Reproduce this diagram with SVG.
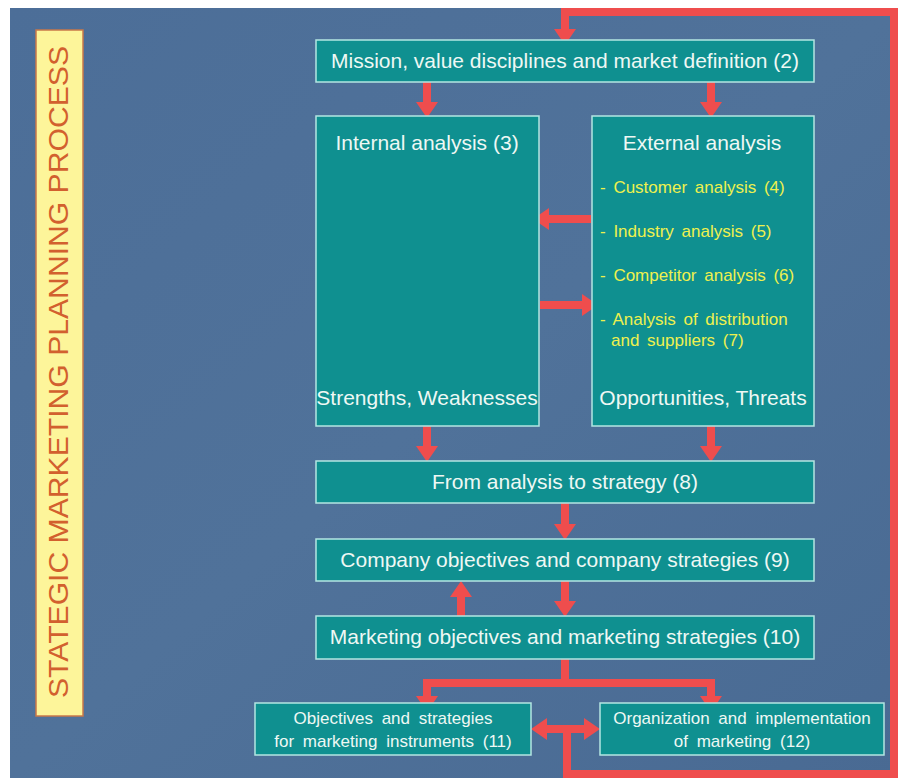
<svg xmlns="http://www.w3.org/2000/svg" width="898" height="778" viewBox="0 0 898 778">
<defs>
<style>
.box{fill:#0f9090;stroke:#b4e6e2;stroke-width:1.5}
.t{font-family:"Liberation Sans",Arial,sans-serif;fill:#eef8f4;text-anchor:middle}
.t18{font-size:21px}
.t15{font-size:17px;word-spacing:4px}
.y{font-family:"Liberation Sans",Arial,sans-serif;fill:#eef04e;font-size:17px;word-spacing:3px}
.c{fill:none;stroke:#ef4d4d;stroke-width:8;stroke-linejoin:miter}
</style>
<marker id="ah" viewBox="0 0 16 22" refX="2" refY="11" markerWidth="16" markerHeight="22" markerUnits="userSpaceOnUse" orient="auto-start-reverse">
<path d="M0,0 L16,11 L0,22 Z" fill="#ef4d4d"/>
</marker>
<linearGradient id="bg" x1="0" y1="0" x2="1" y2="1">
<stop offset="0" stop-color="#4c6e98"/>
<stop offset="0.5" stop-color="#50729a"/>
<stop offset="1" stop-color="#496a93"/>
</linearGradient>
</defs>
<rect x="0" y="0" width="898" height="778" fill="#ffffff"/>
<rect x="10" y="8" width="888" height="770" fill="url(#bg)"/>

<g id="title">
<rect x="36" y="30" width="47" height="686" fill="#fdf59a" stroke="#c8784a" stroke-width="1.5"/>
<text transform="translate(68,372) rotate(-90)" font-family="'Liberation Sans',Arial,sans-serif" font-size="27" fill="#d2602e" text-anchor="middle" textLength="652" lengthAdjust="spacingAndGlyphs">STATEGIC MARKETING PLANNING PROCESS</text>
</g>

<g id="connectors">
<line class="c" x1="427" y1="82" x2="427" y2="104" marker-end="url(#ah)"/>
<line class="c" x1="711" y1="82" x2="711" y2="104" marker-end="url(#ah)"/>
<line class="c" x1="591" y1="219" x2="547" y2="219" marker-end="url(#ah)"/>
<line class="c" x1="540" y1="305" x2="584" y2="305" marker-end="url(#ah)"/>
<line class="c" x1="427" y1="426" x2="427" y2="448" marker-end="url(#ah)"/>
<line class="c" x1="711" y1="426" x2="711" y2="448" marker-end="url(#ah)"/>
<line class="c" x1="565" y1="503" x2="565" y2="526" marker-end="url(#ah)"/>
<line class="c" x1="565" y1="581" x2="565" y2="603" marker-end="url(#ah)"/>
<line class="c" x1="461" y1="616" x2="461" y2="595" marker-end="url(#ah)"/>
<path class="c" d="M565,659 V683 H427 V698" marker-end="url(#ah)"/>
<path class="c" d="M565,683 H711 V698" marker-end="url(#ah)"/>
<line class="c" x1="545" y1="729" x2="586" y2="729" marker-start="url(#ah)" marker-end="url(#ah)"/>
<path class="c" d="M567,729 V774 H894 V12 H565 V31" stroke-width="7" marker-end="url(#ah)"/>
</g>

<g id="n2">
<rect class="box" x="316" y="40" width="498" height="42"/>
<text class="t t18" x="565" y="68">Mission, value disciplines and market definition (2)</text>
</g>
<g id="n3">
<rect class="box" x="316" y="116" width="223" height="310"/>
<text class="t t18" x="427" y="150">Internal analysis (3)</text>
<text class="t t18" x="427" y="405">Strengths, Weaknesses</text>
</g>
<g id="nExt">
<rect class="box" x="592" y="116" width="222" height="310"/>
<text class="t t18" x="702" y="150">External analysis</text>
<text class="y" x="600" y="193">- Customer analysis (4)</text>
<text class="y" x="600" y="237">- Industry analysis (5)</text>
<text class="y" x="600" y="281">- Competitor analysis (6)</text>
<text class="y" x="600" y="325">- Analysis of distribution</text>
<text class="y" x="611" y="346">and suppliers (7)</text>
<text class="t t18" x="703" y="405">Opportunities, Threats</text>
</g>
<g id="n8">
<rect class="box" x="316" y="461" width="498" height="42"/>
<text class="t t18" x="565" y="489">From analysis to strategy (8)</text>
</g>
<g id="n9">
<rect class="box" x="316" y="539" width="498" height="42"/>
<text class="t t18" x="565" y="567">Company objectives and company strategies (9)</text>
</g>
<g id="n10">
<rect class="box" x="316" y="616" width="498" height="43"/>
<text class="t t18" x="565" y="644">Marketing objectives and marketing strategies (10)</text>
</g>
<g id="n11">
<rect class="box" x="255" y="703" width="276" height="52"/>
<text class="t t15" x="393" y="724">Objectives and strategies</text>
<text class="t t15" x="393" y="747">for marketing instruments (11)</text>
</g>
<g id="n12">
<rect class="box" x="600" y="703" width="284" height="52"/>
<text class="t t15" x="742" y="724">Organization and implementation</text>
<text class="t t15" x="742" y="747">of marketing (12)</text>
</g>
</svg>
